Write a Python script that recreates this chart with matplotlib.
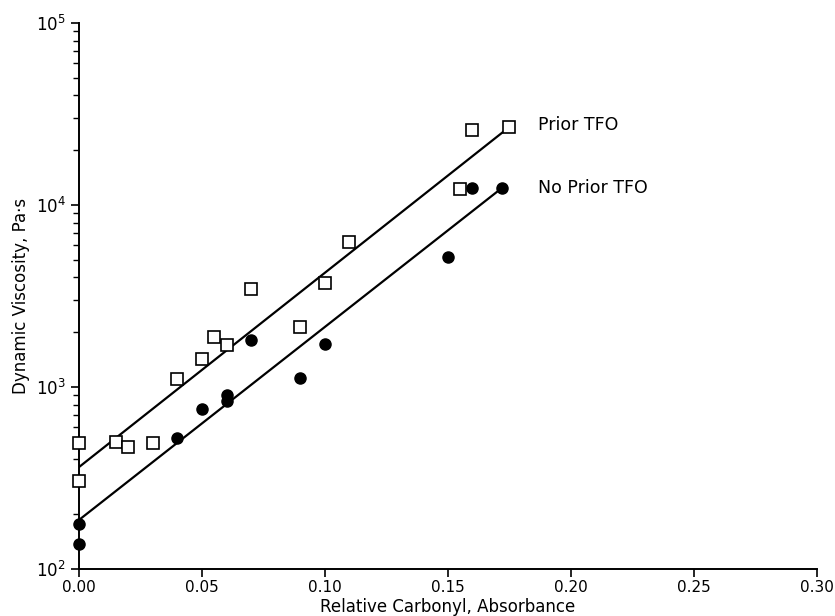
import matplotlib.pyplot as plt
from matplotlib.ticker import LogLocator, NullFormatter

# Prior TFO (open squares)
prior_x = [0.0, 0.0, 0.015, 0.020, 0.030, 0.040, 0.050, 0.055, 0.060, 0.070,
           0.090, 0.100, 0.110, 0.155, 0.160, 0.175]
prior_y = [492, 305, 499, 468, 492, 1107, 1426, 1883, 1700, 3451,
           2136, 3724, 6270, 12250, 25800, 26800]

# No prior TFO (filled circles)
noprior_x = [0.0, 0.0, 0.040, 0.050, 0.060, 0.060, 0.070, 0.090, 0.100,
             0.150, 0.160, 0.172]
noprior_y = [177, 137, 525, 757, 904, 838, 1811, 1120, 1722,
             5180, 12400, 12400]

# regression lines (end points)
prior_fit_x = [0.0, 0.175]
prior_fit_y = [363, 26800]
noprior_fit_x = [0.0, 0.172]
noprior_fit_y = [186, 12400]

fig = plt.figure(figsize=(8.35, 6.16), dpi=100)
ax = fig.add_axes([0.0946, 0.0763, 0.8834, 0.8864])

ax.plot(prior_fit_x, prior_fit_y, color='black', lw=1.6)
ax.plot(noprior_fit_x, noprior_fit_y, color='black', lw=1.6)
ax.plot(prior_x, prior_y, 's', ms=8.5, mfc='white', mec='black', mew=1.2,
        clip_on=False, zorder=3)
ax.plot(noprior_x, noprior_y, 'o', ms=8, mfc='black', mec='black',
        clip_on=False, zorder=3)

ax.text(0.1866, 27500, 'Prior TFO', fontsize=12.5, va='center', ha='left')
ax.text(0.1866, 12400, 'No Prior TFO', fontsize=12.5, va='center', ha='left')

ax.set_yscale('log')
ax.set_xlim(0, 0.30)
ax.set_ylim(100, 1e5)
ax.set_xticks([0.0, 0.05, 0.10, 0.15, 0.20, 0.25, 0.30])
ax.set_xticklabels(['0.00', '0.05', '0.10', '0.15', '0.20', '0.25', '0.30'])
ax.yaxis.set_minor_locator(LogLocator(base=10, subs=range(2, 10)))
ax.yaxis.set_minor_formatter(NullFormatter())

for side in ['top', 'right']:
    ax.spines[side].set_visible(False)
for side in ['left', 'bottom']:
    ax.spines[side].set_linewidth(1.4)

ax.tick_params(axis='both', which='major', direction='out', length=6,
               width=1.2, labelsize=11)
ax.tick_params(axis='y', which='major', labelsize=12)
ax.tick_params(axis='y', which='minor', direction='out', length=4, width=1.0)
ax.tick_params(axis='x', pad=2)

ax.set_xlabel('Relative Carbonyl, Absorbance', fontsize=12, labelpad=2)
ax.set_ylabel('Dynamic Viscosity, Pa\u00b7s', fontsize=12, labelpad=4)

fig.savefig('out.png', dpi=100)
